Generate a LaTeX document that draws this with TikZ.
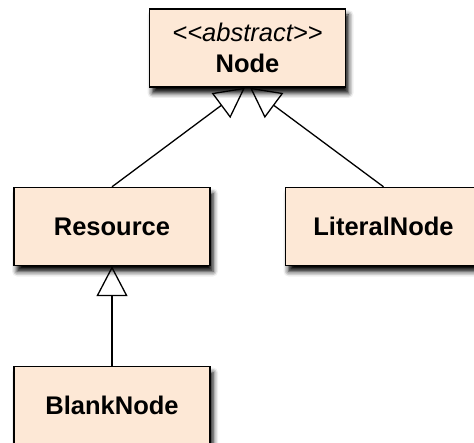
\documentclass[tikz,border=0pt]{standalone}
\usepackage{fontspec}
\setmainfont{Liberation Sans}
\usetikzlibrary{arrows.meta,shadows.blur}
\definecolor{peach}{RGB}{253,232,214}

\begin{document}
\begin{tikzpicture}[x=1pt,y=-1pt,
  cls/.style={draw=black,line width=1.4pt,fill=peach,minimum width=196pt,minimum height=78pt,
    inner sep=0pt,align=center,font=\fontsize{25.5}{31}\selectfont\bfseries,
    blur shadow={shadow xshift=3pt,shadow yshift=-6pt,shadow blur radius=5pt,shadow opacity=100}},
  inherit/.style={line width=1.3pt,-{Triangle[open,length=30pt,width=31pt,line width=1.3pt]}}]
\useasboundingbox (0,0) rectangle (474,443);

\node[cls] (abstr) at (247.5,48) {{\mdseries\itshape <{}<abstract>{}>}\\Node};
\node[cls] (res) at (112,226.5) {Resource};
\node[cls] (lit) at (383.5,226.5) {LiteralNode};
\node[cls] (blank) at (112,405.5) {BlankNode};

\draw[inherit] (res.north) -- ([xshift=-2.5pt]abstr.south);
\draw[inherit] (lit.north) -- ([xshift=2.5pt]abstr.south);
\draw[inherit] (blank.north) -- (res.south);

\end{tikzpicture}
\end{document}
